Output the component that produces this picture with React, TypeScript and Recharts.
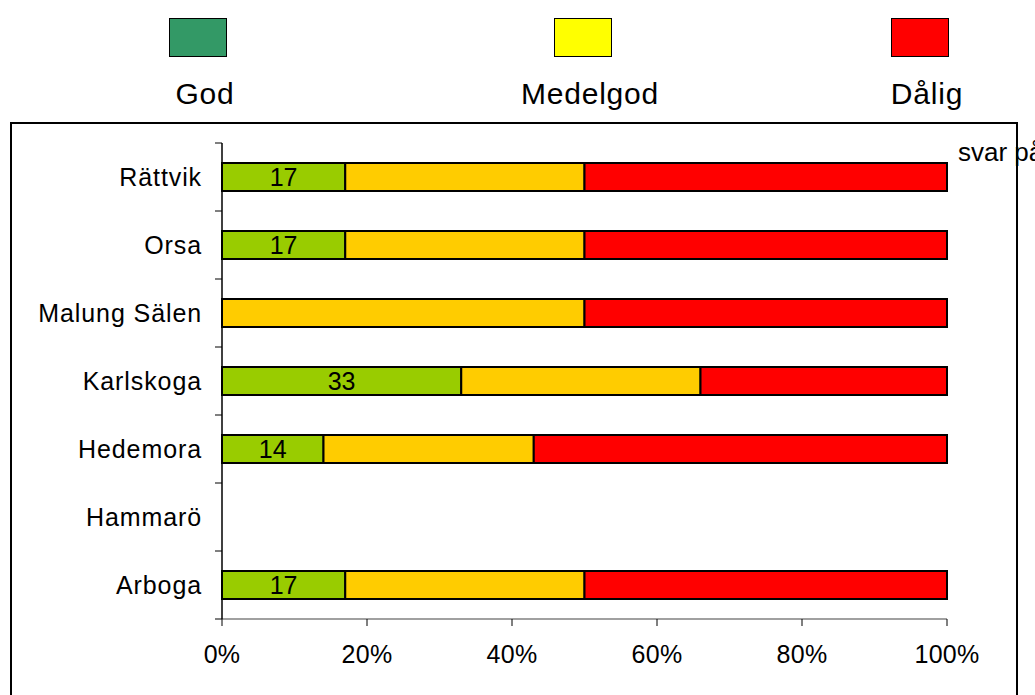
import React from 'react';
import { BarChart, Bar, XAxis, YAxis, LabelList } from 'recharts';

const categories = ['Rättvik', 'Orsa', 'Malung Sälen', 'Karlskoga', 'Hedemora', 'Hammarö', 'Arboga'];
const god = [17, 17, null, 33, 14, null, 17];
const medelgod = [33, 33, 50, 33, 29, null, 33];
const dalig = [50, 50, 50, 34, 57, null, 50];
const xTicks = [0, 20, 40, 60, 80, 100];

const seriesNames = ['God', 'Medelgod', 'Dålig'];
const barColors = ['#99CC00', '#FFCC00', '#FF0000'];
const legendColors = ['#339966', '#FFFF00', '#FF0000'];
const legendCenters = [198, 583, 920];

const WIDTH = 1035;
const HEIGHT = 695;
const PLOT_LEFT = 222;
const PLOT_TOP = 143;
const PLOT_RIGHT = 947;
const PLOT_BOTTOM = 619;
const BAND = (PLOT_BOTTOM - PLOT_TOP) / categories.length;
const FONT = '"Liberation Sans", Arial, sans-serif';

const data = categories.map((name, i) => ({
    name,
    god: god[i],
    medelgod: medelgod[i],
    dalig: dalig[i],
}));

const CategoryTick = (props: any) => {
    const { y, payload, index } = props;
    return (
        <g>
            {index === 0 && (
                <line x1={PLOT_LEFT - 7} x2={PLOT_LEFT} y1={y - BAND / 2} y2={y - BAND / 2} stroke="#000" />
            )}
            <line x1={PLOT_LEFT - 7} x2={PLOT_LEFT} y1={y + BAND / 2} y2={y + BAND / 2} stroke="#000" />
            <text
                x={PLOT_LEFT - 20}
                y={y}
                dy="0.36em"
                textAnchor="end"
                fill="#000"
                fontSize={25}
                letterSpacing={0.9}
                fontFamily={FONT}
            >
                {payload.value}
            </text>
        </g>
    );
};

// legend sits above the framed plot, outside the chart's own layout
const TopLegend = () => (
    <div style={{ position: 'absolute', left: 0, top: 0, width: WIDTH, height: 120 }}>
        {seriesNames.map((name, i) => (
            <React.Fragment key={name}>
                <div
                    style={{
                        position: 'absolute',
                        left: legendCenters[i] - 29,
                        top: 18,
                        width: 56,
                        height: 37,
                        background: legendColors[i],
                        border: '1.5px solid #000',
                    }}
                />
                <div
                    style={{
                        position: 'absolute',
                        left: legendCenters[i] - 100 + 7,
                        top: 77,
                        width: 200,
                        textAlign: 'center',
                        fontSize: 30,
                        letterSpacing: 0.8,
                        fontFamily: FONT,
                        color: '#000',
                        lineHeight: '34px',
                    }}
                >
                    {name}
                </div>
            </React.Fragment>
        ))}
    </div>
);

const App: React.FC = () => {
    return (
        <div style={{ position: 'absolute', left: 0, top: 0, width: WIDTH, height: HEIGHT, overflow: 'hidden', background: '#fff' }}>
            <TopLegend />
            <div
                style={{
                    position: 'absolute',
                    left: 10,
                    top: 122,
                    width: 1008,
                    height: 700,
                    border: '2px solid #000',
                    boxSizing: 'border-box',
                }}
            />
            <div style={{ position: 'absolute', left: 0, top: 0 }}>
                <BarChart
                    width={WIDTH}
                    height={HEIGHT}
                    data={data}
                    layout="vertical"
                    margin={{ top: PLOT_TOP, right: WIDTH - PLOT_RIGHT, bottom: 0, left: 0 }}
                    barSize={28}
                >
                    <XAxis
                        type="number"
                        domain={[0, 100]}
                        ticks={xTicks}
                        tickFormatter={(v: number) => `${v}%`}
                        height={HEIGHT - PLOT_BOTTOM}
                        axisLine={{ stroke: '#808080', strokeWidth: 1.5 }}
                        tickLine={{ stroke: '#000' }}
                        tickSize={7}
                        tickMargin={19}
                        tick={{ fill: '#000', fontSize: 25, fontFamily: FONT, letterSpacing: 0.3 }}
                        interval={0}
                    />
                    <YAxis
                        type="category"
                        dataKey="name"
                        width={PLOT_LEFT}
                        axisLine={{ stroke: '#000', strokeWidth: 1.5 }}
                        tickLine={false}
                        tick={<CategoryTick />}
                        interval={0}
                    />
                    <Bar dataKey="god" name={seriesNames[0]} stackId="a" fill={barColors[0]} stroke="#000" strokeWidth={2} isAnimationActive={false}>
                        <LabelList
                            dataKey="god"
                            position="center"
                            fill="#000"
                            fontSize={25}
                            fontFamily={FONT}
                        />
                    </Bar>
                    <Bar dataKey="medelgod" name={seriesNames[1]} stackId="a" fill={barColors[1]} stroke="#000" strokeWidth={2} isAnimationActive={false} />
                    <Bar dataKey="dalig" name={seriesNames[2]} stackId="a" fill={barColors[2]} stroke="#000" strokeWidth={2} isAnimationActive={false} />
                </BarChart>
            </div>
            <div
                style={{
                    position: 'absolute',
                    left: 958,
                    top: 137,
                    fontSize: 26,
                    fontFamily: FONT,
                    color: '#000',
                    whiteSpace: 'nowrap',
                    lineHeight: '30px',
                }}
            >
                svar på
            </div>
        </div>
    );
};

export default App;
